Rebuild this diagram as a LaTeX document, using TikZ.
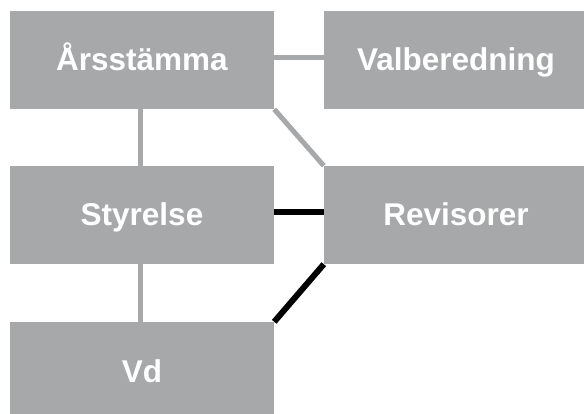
\documentclass[tikz,border=0pt]{standalone}
\usepackage{fontspec}
\setmainfont{Liberation Sans}
\usepackage{tikz}
\usetikzlibrary{positioning}
\definecolor{orggray}{HTML}{A7A8AA}
\tikzset{%
	orgbox/.style={
		rectangle,
		fill=orggray,
		text=white,
		inner sep=0pt,
		minimum width=264pt,
		minimum height=98pt,
		text height=22pt,
		text depth=0pt,
		font=\bfseries\fontsize{31.5}{36}\selectfont
	},
	grayline/.style={
		draw=orggray,
		line width=5pt
	},
	blackline/.style={
		draw=black,
		line width=6pt
	},
}

\begin{document}
\begin{tikzpicture}[x=1pt,y=-1pt]
			\useasboundingbox (0,0) rectangle (584,414);
			
			% Draw the boxes
			\node[orgbox] (ars) at (142,60) {Årsstämma};
			\node[orgbox] (val) at (456,60) {Valberedning};
			\node[orgbox] (sty) at (142,215) {Styrelse};
			\node[orgbox] (rev) at (456,215) {Revisorer};
			\node[orgbox] (vd) at (142,371) {Vd};
			
			% Draw the gray lines
			\draw[grayline] ([yshift=2.5pt]ars.east) -- ([yshift=2.5pt]val.west);
			\draw[grayline] ([xshift=-2pt]ars.south) -- ([xshift=-2pt]sty.north);
			\draw[grayline] ([xshift=-2pt]sty.south) -- ([xshift=-2pt]vd.north);
			\draw[grayline] (ars.south east) -- (rev.north west);
			
			% Draw the black lines
			\draw[blackline] ([yshift=3pt]sty.east) -- ([yshift=3pt]rev.west);
			\draw[blackline] (rev.south west) -- (vd.north east);

		\end{tikzpicture}
\end{document}
